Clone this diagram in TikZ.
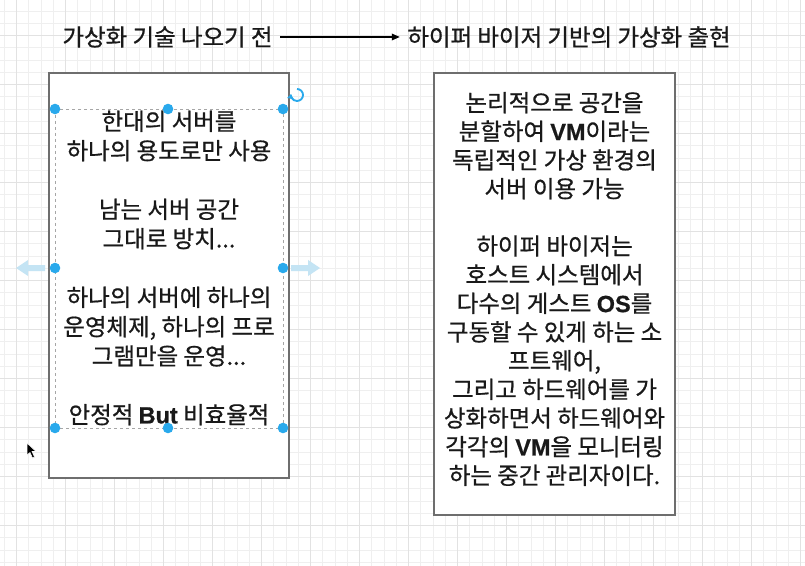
\documentclass[tikz,border=0pt]{standalone}
\usepackage{fontspec}
\setmainfont{Noto Sans CJK KR}[FakeBold=0.7]
\newfontfamily\latb{Liberation Sans}[FakeBold=0.5]
\newcommand{\lb}[1]{{\latb\bfseries #1}}
\usetikzlibrary{arrows.meta}
\definecolor{gridminor}{HTML}{EFEFEF}
\definecolor{gridmajor}{HTML}{E2E2E2}
\definecolor{boxline}{HTML}{6E6E6E}
\definecolor{handle}{HTML}{29A9EC}
\definecolor{sidearrow}{HTML}{C4E4F4}
\tikzset{
  gminor/.style={draw=gridminor,line width=0.75pt},
  gmajor/.style={draw=gridmajor,line width=0.9pt},
  panel/.style={draw=boxline,fill=white,line width=1pt,inner sep=0pt},
  bodytext/.style={align=center,font=\fontsize{17.6}{21.5}\selectfont,inner sep=0pt,text=black!90},
  titletext/.style={font=\fontsize{17.6}{21.5}\selectfont,inner sep=5.5pt,text=black!90},
  dot/.style={fill=handle},
}
\begin{document}
\begin{tikzpicture}[x=0.75pt,y=-0.75pt]
\useasboundingbox (0,0) rectangle (805,566);
\fill[white] (0,0) rectangle (805,566);
% grid
\foreach \i in {0,...,65} { \draw[gminor] ({4.45+12.25*\i},0) -- ++(0,566); }
\foreach \j in {0,...,45} { \draw[gminor] (0,{11.2+12.25*\j}) -- ++(805,0); }
\foreach \i in {0,...,16} { \draw[gmajor] ({16.7+49*\i},0) -- ++(0,566); }
\foreach \j in {0,...,11} { \draw[gmajor] (0,{35.7+49*\j}) -- ++(805,0); }

% titles
\node[titletext] (t1) at (167.5,37) {가상화 기술 나오기 전};
\node[titletext] (t2) at (569,37) {하이퍼 바이저 기반의 가상화 출현};
\draw[line width=0.9pt,-{Triangle[length=6pt,width=5pt]}] (t1.east) -- (t2.west);

% panels
\node[panel,minimum width=180pt,minimum height=303.75pt] (lbox) at (169,275.5) {};
\node[panel,minimum width=180.75pt,minimum height=331.5pt] (rbox) at (554.5,294) {};

% selection frame
\draw[gray!70,dashed,line width=0.6pt,dash pattern=on 2.5pt off 2pt] (55,109) rectangle (283,428);

% left text
\node[bodytext,font=\fontsize{17.6}{22}\selectfont] (ltext) at (169,268) {한대의 서버를\\하나의 용도로만 사용\\[22pt]남는 서버 공간\\그대로 방치...\\[22pt]하나의 서버에 하나의\\운영체제, 하나의 프로\\그램만을 운영...\\[22pt]안정적 \lb{But} 비효율적};

% right text
\node[bodytext] (rtext) at (554.5,289) {논리적으로 공간을\\분할하여 \lb{VM}이라는\\독립적인 가상 환경의\\서버 이용 가능\\[21.5pt]하이퍼 바이저는\\호스트 시스템에서\\다수의 게스트 \lb{OS}를\\구동할 수 있게 하는 소\\프트웨어,\\그리고 하드웨어를 가\\상화하면서 하드웨어와\\각각의 \lb{VM}을 모니터링\\하는 중간 관리자이다.};

% handles
\foreach \p in {(55,109),(168,109),(283,109),(55,268),(283,268),(55,428),(168,428),(283,428)} {
  \fill[dot] \p circle (5.3);
}
% side arrows
\fill[sidearrow] (16,268) -- (28,260) -- (28,265) -- (45,265) -- (45,271) -- (28,271) -- (28,276) -- cycle;
\fill[sidearrow] (320,268) -- (308,260) -- (308,265) -- (291,265) -- (291,271) -- (308,271) -- (308,276) -- cycle;
% rotate icon
\draw[handle,line width=1.4pt,-{Triangle[length=3.5pt,width=4.5pt]}] (297,89) arc[start angle=-90,end angle=190,radius=6];
% cursor
\fill[black,draw=white,line width=0.4pt] (27,443) -- (27,455) -- (30,452.5) -- (32.5,458) -- (34.5,457) -- (32,451.5) -- (36,451.5) -- cycle;
\end{tikzpicture}
\end{document}
